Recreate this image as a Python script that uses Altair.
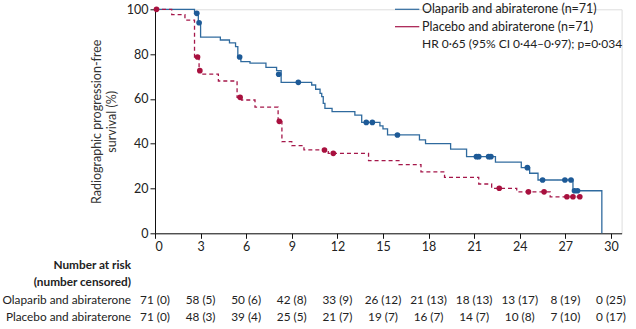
import altair as alt
import pandas as pd

ARMS = ["Olaparib and abiraterone (n=71)", "Placebo and abiraterone (n=71)"]
COLORS = ["#2f6a9e", "#a5174a"]

# Kaplan-Meier step points (time in months, survival %)
ola_t = [0, 2.6, 2.85, 3.0, 4.3, 4.9, 5.3, 5.45, 5.65, 6.25, 7.3, 8.0, 8.3, 10.31, 10.57,
         10.86, 10.97, 11.07, 11.18, 11.65, 13.15, 13.6, 14.8, 15.0, 15.3, 17.4, 17.8,
         19.45, 20.5, 22.4, 24.1, 24.65, 25.2, 27.5, 29.4]
ola_s = [100, 98.2, 94.0, 87.6, 86.3, 85.0, 83.3, 78.7, 76.6, 76.0, 74.1, 72.6, 67.4, 66.2, 64.3,
         62.5, 61.0, 58.0, 55.8, 54.3, 52.8, 49.5, 48.0, 46.6, 43.9, 41.7, 40.0,
         37.6, 34.2, 31.8, 29.3, 26.8, 23.8, 19.0, 0]

pla_t = [0, 1.1, 1.97, 2.6, 2.9, 3.0, 4.17, 5.4, 5.7, 6.58, 8.1, 8.35, 9.0, 9.8, 11.4,
         14.05, 16.05, 17.5, 19.05, 21.3, 22.15, 23.8, 26.0, 28.0]
pla_s = [100, 97.6, 95.2, 78.7, 72.6, 71.1, 68.0, 60.7, 59.5, 56.3, 50.0, 40.9, 39.1, 37.2, 35.7,
         32.4, 30.7, 27.4, 25.0, 22.0, 20.1, 18.5, 16.3, 16.3]

# Censored observations
ola_ct = [2.75, 2.9, 5.57, 8.14, 9.43, 13.9, 14.3, 15.95, 21.15, 21.3, 21.95, 22.1, 24.5,
          25.5, 26.97, 27.37, 27.6, 27.8]
ola_cs = [98.2, 94.0, 78.7, 71.0, 67.4, 49.5, 49.5, 43.9, 34.2, 34.2, 34.2, 34.2, 29.3,
          23.8, 23.8, 23.8, 19.0, 19.0]
pla_ct = [0.1, 2.8, 2.95, 5.6, 8.18, 11.15, 11.73, 22.65, 24.57, 25.6, 27.1, 27.5, 27.95]
pla_cs = [100, 78.7, 72.6, 60.7, 50.0, 37.2, 35.7, 20.1, 18.5, 18.5, 16.3, 16.3, 16.3]

# Number at risk table
risk_times = [0, 3, 6, 9, 12, 15, 18, 21, 24, 27, 30]
ola_risk = ["71 (0)", "58 (5)", "50 (6)", "42 (8)", "33 (9)", "26 (12)", "21 (13)",
            "18 (13)", "13 (17)", "8 (19)", "0 (25)"]
pla_risk = ["71 (0)", "48 (3)", "39 (4)", "25 (5)", "21 (7)", "19 (7)", "16 (7)",
            "14 (7)", "10 (8)", "7 (10)", "0 (17)"]
row_labels = ["Olaparib and abiraterone", "Placebo and abiraterone"]
header_lines = ["Number at risk", "(number censored)"]
hr_text = "HR 0·65 (95% CI 0·44–0·97); p=0·034"

FONT = "Lato"
FS = 12.5
FS_T = 11.8

lines = pd.DataFrame(
    [{"arm": ARMS[0], "t": t, "s": s, "i": i} for i, (t, s) in enumerate(zip(ola_t, ola_s))]
    + [{"arm": ARMS[1], "t": t, "s": s, "i": i} for i, (t, s) in enumerate(zip(pla_t, pla_s))]
)
cens = pd.DataFrame(
    [{"arm": ARMS[0], "t": t, "s": s} for t, s in zip(ola_ct, ola_cs)]
    + [{"arm": ARMS[1], "t": t, "s": s} for t, s in zip(pla_ct, pla_cs)]
)
risk_o = pd.DataFrame({"t": risk_times, "label": ola_risk})
risk_p = pd.DataFrame({"t": risk_times, "label": pla_risk})

xscale = alt.Scale(domain=[0, 30.7], nice=False)
yscale = alt.Scale(domain=[0, 100], nice=False)
cscale = alt.Scale(domain=ARMS, range=COLORS)

xaxis = alt.Axis(values=risk_times, title=None, grid=False, domainColor="#111", tickColor="#111",
                 tickSize=5, labelFontSize=FS, labelColor="#222", labelFont=FONT, labelPadding=2)
yaxis = alt.Axis(values=[0, 20, 40, 60, 80, 100], grid=False, domainColor="#111", tickColor="#111",
                 tickSize=5, labelFontSize=FS, labelColor="#222", labelFont=FONT, labelPadding=2,
                 title=["Radiographic progression-free", "survival (%)"], titleFont=FONT,
                 titleFontSize=FS, titleFontWeight="normal", titleColor="#333", titlePadding=8)

line = alt.Chart(lines).mark_line(interpolate="step-after", strokeWidth=1.3).encode(
    x=alt.X("t:Q", scale=xscale, axis=xaxis),
    y=alt.Y("s:Q", scale=yscale, axis=yaxis),
    color=alt.Color("arm:N", scale=cscale, legend=None),
    strokeDash=alt.StrokeDash("arm:N", scale=alt.Scale(domain=ARMS, range=[[1, 0], [4, 3]]),
                              legend=None),
    order="i:Q",
)

pts = alt.Chart(cens).mark_point(filled=True, size=32, opacity=1).encode(
    x="t:Q", y="s:Q",
    color=alt.Color("arm:N", scale=alt.Scale(domain=ARMS, range=["#1d5a97", "#a8103e"]), legend=None),
)


def txt(text, x, y, align="left", weight="normal", fs=FS_T):
    return alt.Chart(pd.DataFrame({"txt": [text]})).mark_text(
        align=align, baseline="middle", font=FONT, fontSize=fs, fontWeight=weight, color="#222"
    ).encode(x=alt.value(x), y=alt.value(y), text="txt:N")


def swatch(color, y):
    return alt.Chart(pd.DataFrame({"k": [0]})).mark_rule(color=color, strokeWidth=1.2).encode(
        x=alt.value(240), x2=alt.value(264.3), y=alt.value(y))


leg = [swatch(COLORS[0], 0), swatch(COLORS[1], 17.4),
       txt(ARMS[0], 267, 0, fs=FS), txt(ARMS[1], 267, 17.4, fs=FS)]
hr = txt(hr_text, 267, 35, fs=12)

risk_ola = alt.Chart(risk_o).mark_text(
    align="center", baseline="middle", font=FONT, fontSize=FS_T, color="#222"
).encode(x=alt.X("t:Q", scale=xscale), y=alt.value(290.7), text="label:N")
risk_pla = alt.Chart(risk_p).mark_text(
    align="center", baseline="middle", font=FONT, fontSize=FS_T, color="#222"
).encode(x=alt.X("t:Q", scale=xscale), y=alt.value(308), text="label:N")

h1 = txt(header_lines[0], -24, 255.7, align="right", weight="bold")
h2 = txt(header_lines[1], -24, 273, align="right", weight="bold")
r1 = txt(row_labels[0], -24, 290.7, align="right")
r2 = txt(row_labels[1], -24, 308, align="right")

chart = alt.layer(line, pts, *leg, hr, risk_ola, risk_pla, h1, h2, r1, r2).resolve_scale(
    color="independent"
).properties(
    width=466.6, height=224,
    autosize=alt.AutoSizeParams(type="none"),
    padding={"left": 155, "top": 9.3, "right": 14.4, "bottom": 95.7},
).configure_view(stroke=None).configure(background="white")

chart.save("out.html", embed_options={"renderer": "svg", "actions": False})
